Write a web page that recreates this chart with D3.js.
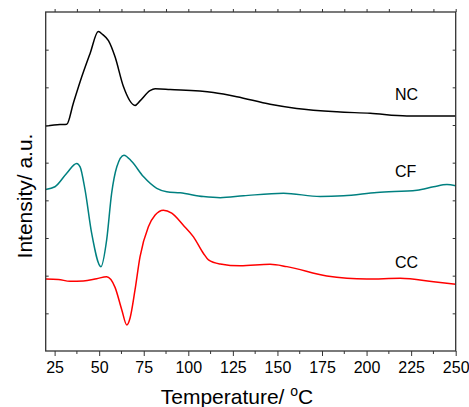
<!DOCTYPE html>
<html>
<head>
<meta charset="utf-8">
<script src="https://cdn.jsdelivr.net/npm/d3@7"></script>
<style>
  body { margin: 0; background: #fff; }
  svg text { font-family: "Liberation Sans", Arial, sans-serif; fill: #000; }
</style>
</head>
<body>
<div id="chart"></div>
<script>
// temperature (°C) and intensity (a.u.)
var ncTemp = [20, 28, 31.8, 35.5, 39.3, 44.9, 49.5, 52, 55.2, 58.9, 63.6, 70.1, 72.9, 78.5, 81.4, 89.8, 114.1, 127.2, 145.9, 160.8, 183.4, 202, 222.6, 250];
var ncVal  = [5.97, 6.01, 6.02, 6.58, 7.15, 7.90, 8.48, 8.40, 8.24, 7.81, 7.02, 6.52, 6.64, 6.91, 6.96, 6.94, 6.86, 6.75, 6.55, 6.44, 6.35, 6.31, 6.24, 6.24];

var cfTemp = [20, 25.2, 31.8, 37.4, 39.3, 42.1, 45.8, 51, 54.2, 57, 59.9, 63.9, 68.3, 74.8, 82.3, 87.9, 95.4, 108.5, 117.9, 131, 153.4, 174, 187.1, 205.8, 228.3, 237.6, 245.1, 250];
var cfVal  = [4.29, 4.36, 4.72, 4.98, 4.89, 4.27, 3.12, 2.24, 2.95, 4.19, 4.89, 5.20, 5.03, 4.63, 4.32, 4.23, 4.20, 4.10, 4.07, 4.12, 4.19, 4.10, 4.12, 4.21, 4.27, 4.36, 4.42, 4.39];

var ccTemp = [20, 27.1, 33.6, 41.1, 48.6, 54.2, 58.9, 62.7, 65.5, 67.3, 70.1, 72.9, 77.6, 81.4, 86, 90.7, 97.2, 102.9, 108.5, 111.3, 117.9, 129.1, 145.9, 155.3, 177.7, 189, 200.2, 218.9, 237.6, 250];
var ccVal  = [1.91, 1.90, 1.85, 1.86, 1.92, 1.97, 1.69, 1.09, 0.69, 0.87, 1.62, 2.50, 3.30, 3.61, 3.74, 3.66, 3.34, 3.03, 2.59, 2.42, 2.31, 2.26, 2.30, 2.24, 1.99, 1.93, 1.91, 1.93, 1.84, 1.77];

var seriesNames = ["NC", "CF", "CC"];
var seriesColors = ["#000000", "#008080", "#ff0000"];
var xTicks = [25, 50, 75, 100, 125, 150, 175, 200, 225, 250];

var W = 469, H = 407;
var margin = { top: 12, right: 13.3, bottom: 56, left: 45.7 };

var x = d3.scaleLinear().domain([20, 250]).range([margin.left, W - margin.right]);
var y = d3.scaleLinear().domain([0, 9]).range([H - margin.bottom, margin.top]);

var svg = d3.select("#chart").append("svg")
    .attr("width", W)
    .attr("height", H);

// curves
var line = d3.line()
    .x(d => x(d[0]))
    .y(d => y(d[1]))
    .curve(d3.curveMonotoneX);

var allSeries = [
    d3.zip(ncTemp, ncVal),
    d3.zip(cfTemp, cfVal),
    d3.zip(ccTemp, ccVal)
];

allSeries.forEach(function (pts, i) {
    svg.append("path")
        .datum(pts)
        .attr("fill", "none")
        .attr("stroke", seriesColors[i])
        .attr("stroke-width", 1.5)
        .attr("d", line);
});

// frame
svg.append("rect")
    .attr("x", margin.left)
    .attr("y", margin.top)
    .attr("width", W - margin.right - margin.left)
    .attr("height", H - margin.bottom - margin.top)
    .attr("fill", "none")
    .attr("stroke", "#333")
    .attr("stroke-width", 1.3);

var minorX = d3.range(25, 251, 12.5);

// bottom axis
var bottom = svg.append("g")
    .attr("transform", "translate(0," + (H - margin.bottom) + ")")
    .call(d3.axisBottom(x).tickValues(xTicks).tickSize(5).tickPadding(6));
bottom.append("g").selectAll("line")
    .data(minorX.filter(v => xTicks.indexOf(v) < 0))
    .join("line")
    .attr("x1", d => x(d)).attr("x2", d => x(d))
    .attr("y1", 0).attr("y2", 3)
    .attr("stroke", "#333");

// top axis, ticks only
svg.append("g")
    .attr("transform", "translate(0," + margin.top + ")")
    .call(d3.axisTop(x).tickValues(minorX).tickSize(3).tickFormat(""));

// left / right axis, inward ticks only
var yTicks = d3.range(1, 9);
svg.append("g")
    .attr("transform", "translate(" + margin.left + ",0)")
    .call(d3.axisLeft(y).tickValues(yTicks).tickSize(-3).tickFormat(""));
svg.append("g")
    .attr("transform", "translate(" + (W - margin.right) + ",0)")
    .call(d3.axisRight(y).tickValues(yTicks).tickSize(-3).tickFormat(""));

svg.selectAll(".domain").remove();
svg.selectAll(".tick line").attr("stroke", "#333");
bottom.selectAll(".tick text")
    .style("font-size", "16px")
    .attr("fill", "#000");

// series labels
var labelPos = [[395, 100], [395, 177], [395, 268]];
seriesNames.forEach(function (name, i) {
    svg.append("text")
        .attr("x", labelPos[i][0])
        .attr("y", labelPos[i][1])
        .style("font-size", "16px")
        .text(name);
});

// axis titles
var xt = svg.append("text")
    .attr("x", 237)
    .attr("y", 404)
    .attr("text-anchor", "middle")
    .style("font-size", "21px");
xt.append("tspan").text("Temperature/ ");
xt.append("tspan").attr("dy", -8).style("font-size", "14px").text("o");
xt.append("tspan").attr("dy", 8).text("C");

svg.append("text")
    .attr("transform", "translate(32,196) rotate(-90)")
    .attr("text-anchor", "middle")
    .style("font-size", "21px")
    .text("Intensity/ a.u.");
</script>
</body>
</html>
